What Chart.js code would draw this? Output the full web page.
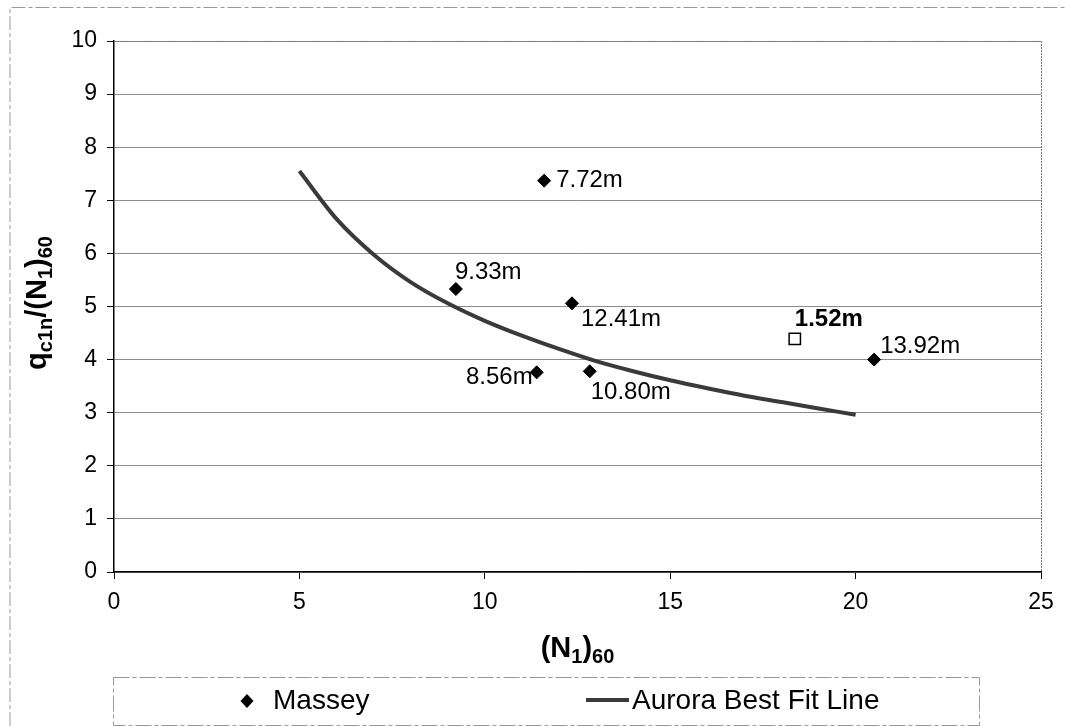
<!DOCTYPE html>
<html>
<head>
<meta charset="utf-8">
<script src="https://cdn.jsdelivr.net/npm/chart.js@4.4.0/dist/chart.umd.min.js"></script>
<style>
    html, body { margin: 0; padding: 0; background: #fff; }
    #wrap { width: 1065px; height: 726px; }
</style>
</head>
<body>
<div id="wrap"><canvas id="chart" width="1065" height="726"></canvas></div>
<script>
// ---- data ----
const xTickValues = [0, 5, 10, 15, 20, 25];
const yTickValues = [0, 1, 2, 3, 4, 5, 6, 7, 8, 9, 10];

const masseyX = [11.6, 9.22, 12.35, 11.4, 12.83, 20.5];
const masseyY = [7.37, 5.33, 5.06, 3.76, 3.78, 4.0];
const masseyLabels = ['7.72m', '9.33m', '12.41m', '8.56m', '10.80m', '13.92m'];

const shallowX = [18.36];
const shallowY = [4.39];
const shallowLabels = ['1.52m'];

const fitX = [5, 6, 7, 8, 9, 10, 11, 12, 13, 14, 15, 16, 17, 18, 19, 20];
const fitY = [7.55, 6.65, 5.98, 5.46, 5.06, 4.73, 4.45, 4.2, 3.97, 3.78, 3.61, 3.46, 3.32, 3.2, 3.08, 2.96];

const legendNames = ['Massey', 'Aurora Best Fit Line'];

// label placement relative to each point (pixels)
const masseyLabelOffsets = [
    { dx: 12, dy: 0, align: 'left' },
    { dx: -1, dy: -17, align: 'left' },
    { dx: 9, dy: 16, align: 'left' },
    { dx: -4, dy: 5, align: 'right' },
    { dx: 1, dy: 21, align: 'left' },
    { dx: 6, dy: -13, align: 'left' }
];
const shallowLabelOffsets = [{ dx: 0, dy: -20, align: 'left' }];

const FONT = '"Liberation Sans", Arial, sans-serif';

// draw text pieces with subscripts, returns total width
function drawSubText(ctx, parts, x, y, measureOnly) {
    let w = 0;
    parts.forEach(p => {
        ctx.font = 'bold ' + (p.sub ? 20 : 29) + 'px ' + FONT;
        if (!measureOnly) ctx.fillText(p.t, x + w, y + (p.sub ? 8 : 0));
        w += ctx.measureText(p.t).width;
    });
    return w;
}

const decorPlugin = {
    id: 'decor',
    beforeDraw(chart) {
        const ctx = chart.ctx;
        ctx.save();
        ctx.fillStyle = '#fff';
        ctx.fillRect(0, 0, chart.width, chart.height);
        // outer frame
        ctx.strokeStyle = '#999';
        ctx.lineWidth = 1;
        ctx.setLineDash([14, 3, 4, 3]);
        ctx.beginPath();
        ctx.moveTo(10, 726); ctx.lineTo(10, 7.5); ctx.lineTo(1065, 7.5);
        ctx.stroke();
        ctx.restore();
    },
    afterDatasetsDraw(chart) {
        const ctx = chart.ctx;
        const a = chart.chartArea;
        const xs = chart.scales.x, ys = chart.scales.y;
        ctx.save();

        // plot area top / right border
        ctx.strokeStyle = '#777';
        ctx.lineWidth = 1;
        ctx.setLineDash([2, 1]);
        ctx.beginPath();
        ctx.moveTo(a.left, a.top + 0.5); ctx.lineTo(a.right + 0.5, a.top + 0.5); ctx.lineTo(a.right + 0.5, a.bottom);
        ctx.stroke();
        ctx.setLineDash([]);

        // point labels
        ctx.fillStyle = '#000';
        ctx.textBaseline = 'middle';
        ctx.font = '24px ' + FONT;
        masseyLabels.forEach((lbl, i) => {
            const o = masseyLabelOffsets[i];
            ctx.textAlign = o.align;
            ctx.fillText(lbl, xs.getPixelForValue(masseyX[i]) + o.dx, ys.getPixelForValue(masseyY[i]) + o.dy);
        });
        ctx.font = 'bold 24px ' + FONT;
        shallowLabels.forEach((lbl, i) => {
            const o = shallowLabelOffsets[i];
            ctx.textAlign = o.align;
            ctx.fillText(lbl, xs.getPixelForValue(shallowX[i]) + o.dx, ys.getPixelForValue(shallowY[i]) + o.dy);
        });

        // axis titles
        ctx.textAlign = 'left';
        ctx.textBaseline = 'middle';
        const xTitle = [{ t: '(N' }, { t: '1', sub: true }, { t: ')' }, { t: '60', sub: true }];
        const xw = drawSubText(ctx, xTitle, 0, 0, true);
        drawSubText(ctx, xTitle, (a.left + a.right) / 2 - xw / 2, 649);

        const yTitle = [{ t: 'q' }, { t: 'c1n', sub: true }, { t: '/(N' }, { t: '1', sub: true }, { t: ')' }, { t: '60', sub: true }];
        const yw = drawSubText(ctx, yTitle, 0, 0, true);
        ctx.save();
        ctx.translate(38, 303);
        ctx.rotate(-Math.PI / 2);
        drawSubText(ctx, yTitle, -yw / 2, 0);
        ctx.restore();

        // legend
        ctx.strokeStyle = '#999';
        ctx.lineWidth = 1;
        ctx.setLineDash([16, 3, 4, 3]);
        ctx.strokeRect(113.5, 677.5, 866, 48);
        ctx.setLineDash([]);
        const ly = 701;
        ctx.fillStyle = '#000';
        ctx.beginPath();
        ctx.moveTo(247, ly - 7); ctx.lineTo(253.5, ly); ctx.lineTo(247, ly + 7); ctx.lineTo(240.5, ly);
        ctx.closePath();
        ctx.fill();
        ctx.font = '28px ' + FONT;
        ctx.fillText(legendNames[0], 273, ly);
        ctx.strokeStyle = '#3a3a3a';
        ctx.lineWidth = 4;
        ctx.beginPath();
        ctx.moveTo(586, ly - 1); ctx.lineTo(629, ly - 1);
        ctx.stroke();
        ctx.fillText(legendNames[1], 632, ly);

        ctx.restore();
    }
};

const ctx = document.getElementById('chart').getContext('2d');
const chart = new Chart(ctx, {
    type: 'scatter',
    data: {
        datasets: [
            {
                label: legendNames[1],
                data: fitX.map((x, i) => ({ x: x, y: fitY[i] })),
                showLine: true,
                borderColor: '#3a3a3a',
                borderWidth: 4,
                pointRadius: 0,
                cubicInterpolationMode: 'monotone',
                order: 3
            },
            {
                label: legendNames[0],
                data: masseyX.map((x, i) => ({ x: x, y: masseyY[i] })),
                pointStyle: 'rectRot',
                pointRadius: 6.5,
                backgroundColor: '#000',
                borderColor: '#000',
                borderWidth: 1,
                order: 1
            },
            {
                label: 'Shallow',
                data: shallowX.map((x, i) => ({ x: x, y: shallowY[i] })),
                pointStyle: 'rect',
                pointRadius: 8,
                backgroundColor: '#fff',
                borderColor: '#000',
                borderWidth: 1.5,
                order: 2
            }
        ]
    },
    options: {
        responsive: false,
        animation: false,
        layout: { padding: { top: 41, right: 24, left: 0, bottom: 0 } },
        plugins: {
            legend: { display: false },
            tooltip: { enabled: false }
        },
        scales: {
            x: {
                type: 'linear',
                min: 0,
                max: 25,
                afterFit: s => { s.height = 154; },
                afterBuildTicks: s => { s.ticks = xTickValues.map(v => ({ value: v })); },
                ticks: { font: { family: FONT, size: 23 }, color: '#000', padding: 10 },
                grid: { drawOnChartArea: false, tickLength: 7, tickColor: '#000' },
                border: { color: '#000', width: 1.5 }
            },
            y: {
                min: 0,
                max: 10,
                afterFit: s => { s.width = 114; },
                afterBuildTicks: s => { s.ticks = yTickValues.map(v => ({ value: v })); },
                ticks: { font: { family: FONT, size: 23 }, color: '#000', padding: 10 },
                grid: { color: '#8c8c8c', lineWidth: 1, tickLength: 7, tickColor: '#000' },
                border: { color: '#000', width: 1.5 }
            }
        }
    },
    plugins: [decorPlugin]
});
</script>
</body>
</html>
